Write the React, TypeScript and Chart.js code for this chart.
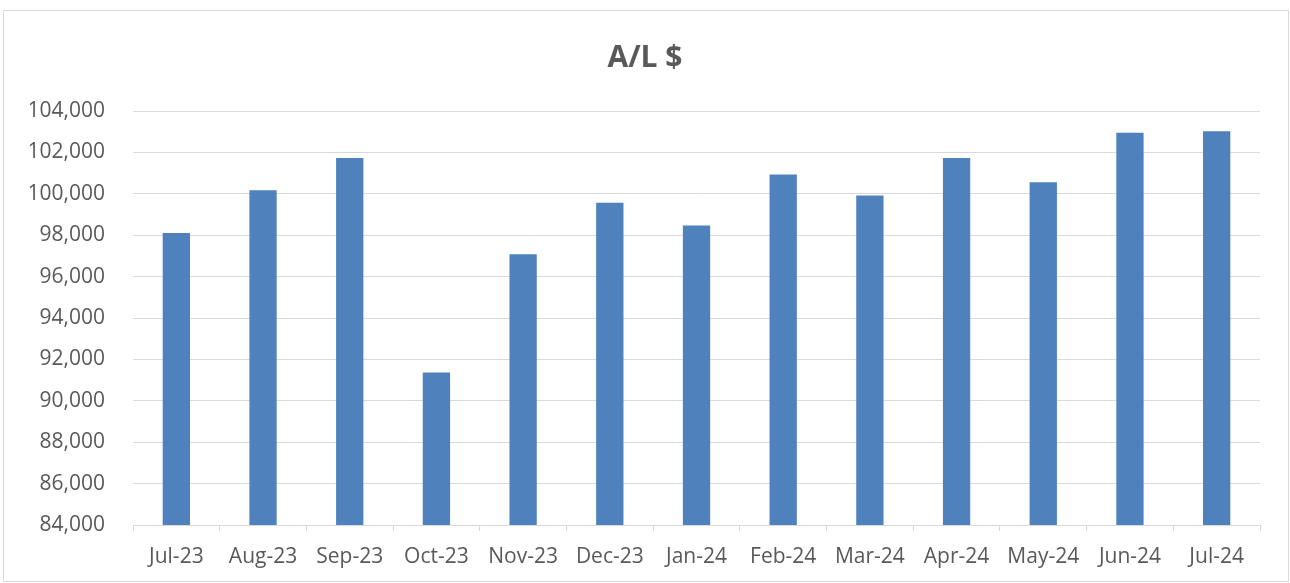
import React, { useEffect, useRef } from "react";
import { Chart, registerables } from "chart.js";

Chart.register(...registerables);

const categories = [
  "Jul-23", "Aug-23", "Sep-23", "Oct-23", "Nov-23", "Dec-23", "Jan-24",
  "Feb-24", "Mar-24", "Apr-24", "May-24", "Jun-24", "Jul-24",
];
const alValues = [
  98106, 100177, 101735, 91373, 97084, 99566, 98467,
  100935, 99918, 101730, 100554, 102955, 103022,
];
const yMin = 84000;
const yMax = 104000;
const yStep = 2000;
const chartTitle = "A/L $";

export default function App() {
  const canvasRef = useRef<HTMLCanvasElement | null>(null);

  useEffect(() => {
    if (!canvasRef.current) return;
    const textColor = "#595959";
    const gridColor = "#d9d9d9";
    const chart = new Chart(canvasRef.current, {
      type: "bar",
      data: {
        labels: categories,
        datasets: [
          {
            label: chartTitle,
            data: alValues,
            backgroundColor: "#4F81BD",
            borderColor: "#4F81BD",
            borderWidth: 0,
            categoryPercentage: 1,
            barPercentage: 0.315,
          },
        ],
      },
      options: {
        responsive: true,
        maintainAspectRatio: false,
        animation: false,
        layout: { padding: { left: 26, right: 28, top: 0, bottom: 0 } },
        plugins: {
          legend: { display: false },
          tooltip: { enabled: false },
          title: {
            display: true,
            text: chartTitle,
            color: textColor,
            font: { family: "'Open Sans', sans-serif", size: 30, weight: "bold", lineHeight: 1.2 },
            padding: { top: 29, bottom: 35 },
          },
        },
        scales: {
          x: {
            grid: {
              display: true,
              drawOnChartArea: false,
              drawTicks: true,
              tickLength: 6,
              offset: true,
              color: gridColor,
              lineWidth: 1,
            },
            border: { display: true, color: gridColor, width: 1 },
            ticks: {
              color: textColor,
              font: { family: "'Open Sans', sans-serif", size: 21 },
              padding: 13,
              maxRotation: 0,
              autoSkip: false,
            },
            afterFit: (scale: any) => {
              scale.height = 56;
            },
          },
          y: {
            min: yMin,
            max: yMax,
            grid: {
              display: true,
              drawTicks: false,
              color: gridColor,
              lineWidth: 1,
            },
            border: { display: false },
            ticks: {
              stepSize: yStep,
              color: textColor,
              padding: 28,
              font: { family: "'Open Sans', sans-serif", size: 21 },
              callback: (v: any) => Number(v).toLocaleString("en-US"),
            },
            afterFit: (scale: any) => {
              scale.width = 103;
            },
          },
        },
      },
    });
    return () => chart.destroy();
  }, []);

  return (
    <div
      style={{
        position: "fixed",
        left: 3,
        top: 10,
        width: 1286,
        height: 572,
        border: "1px solid #d9d9d9",
        boxSizing: "border-box",
        background: "#ffffff",
      }}
    >
      <div style={{ position: "absolute", left: 0, top: 0, width: 1284, height: 570 }}>
        <canvas ref={canvasRef} />
      </div>
    </div>
  );
}
